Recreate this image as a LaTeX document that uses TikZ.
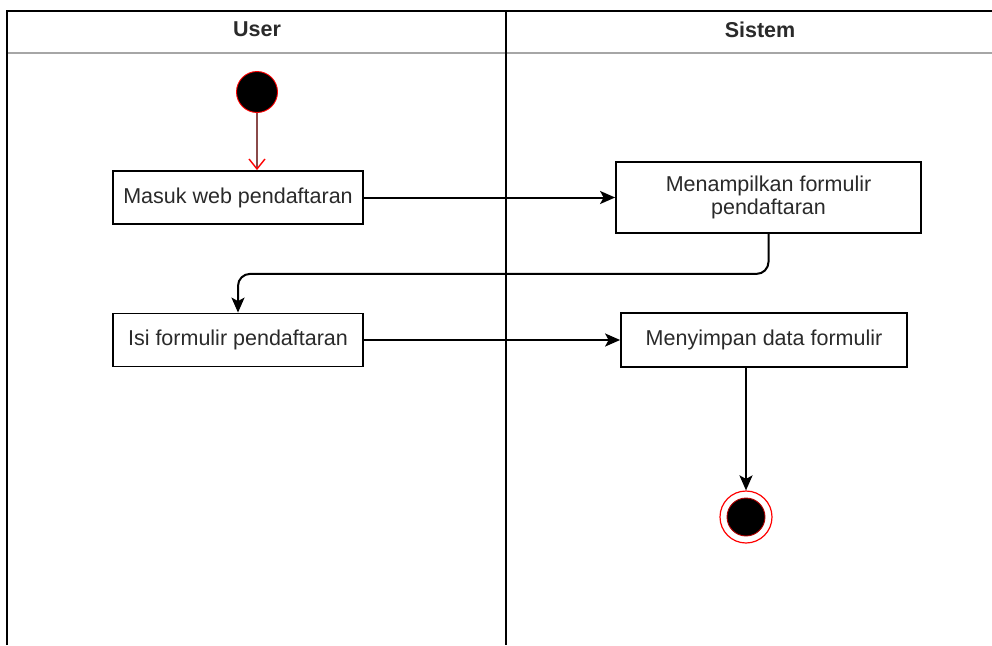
\documentclass[tikz,border=0pt]{standalone}
\usepackage{fontspec}
\setmainfont{Liberation Sans}
\usetikzlibrary{arrows.meta,calc}
\definecolor{txt}{HTML}{2A2A2A}
\definecolor{startline}{HTML}{8A4A4A}
\tikzset{
  act/.style={draw=black, line width=1.8pt, fill=white, rectangle, align=center,
    font=\fontsize{21.5}{23.5}\selectfont, text=txt, inner sep=0pt},
  flow/.style={draw=black, line width=2pt, -{Stealth[length=15pt,width=13pt,inset=3.5pt]}},
  lane/.style={draw=black, line width=1.8pt},
  hdr/.style={font=\fontsize{21.5}{23}\selectfont\bfseries, text=txt}
}
\begin{document}
\begin{tikzpicture}[x=1pt,y=-1pt]
\useasboundingbox (0,0) rectangle (992,645);
\fill[white] (0,0) rectangle (992,645);
% lanes
\draw[gray!70, line width=1.4pt] (7,53) -- (992,53);
\draw[lane] (7,645) -- (7,11) -- (992,11);
\draw[lane] (506,11) -- (506,645);
\node[hdr] (hu) at (257,29.5) {User};
\node[hdr] (hs) at (760,29.5) {Sistem};
% nodes
\node[circle, draw=red, line width=0.9pt, fill=black, minimum size=41pt, inner sep=0pt] (start) at (257,92) {};
\node[act, minimum width=250pt, minimum height=53pt] (b1) at (238,197.5) {Masuk web pendaftaran};
\node[act, minimum width=305pt, minimum height=71pt] (b2) at (768.5,197.5) {Menampilkan formulir\\pendaftaran};
\node[act, minimum width=250pt, minimum height=53pt] (b3) at (238,340) {Isi formulir pendaftaran};
\node[act, minimum width=286pt, minimum height=54pt] (b4) at (764,340) {Menyimpan data formulir};
\node[circle, draw=red, line width=1.2pt, fill=white, minimum size=52pt, inner sep=0pt] (end) at (746,517) {};
\node[circle, draw=red!70!black, line width=0.9pt, fill=black, minimum size=38pt, inner sep=0pt] (endin) at (end.center) {};
% connectors
\draw[startline, line width=1.4pt, -{Straight Barb[length=10pt,width=16pt,line width=1.4pt,color=red]}] (start.south) -- (start.south |- b1.north);
\draw[flow] (b1.east) -- (b2.west |- b1.east);
\draw[flow, rounded corners=12pt] (b2.south) -- ++(0,40) -| (b3.north);
\draw[flow] (b3.east) -- (b4.west |- b3.east);
\draw[flow] (b4.south -| end.north) -- (end.north);
\end{tikzpicture}
\end{document}
